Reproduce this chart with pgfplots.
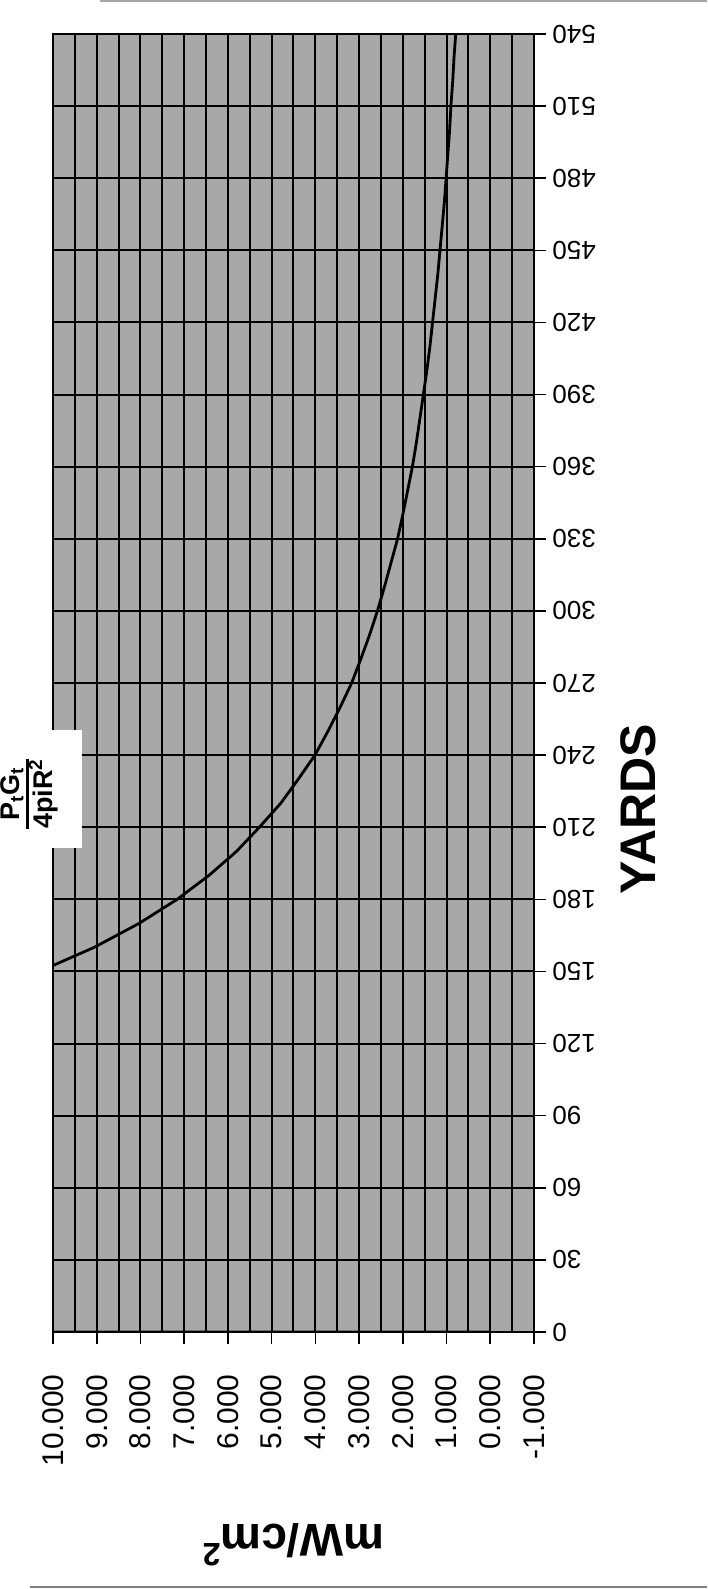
\documentclass[border=0pt]{standalone}
\usepackage{pgfplots}
\usepackage{pgfplotstable}
\pgfplotsset{compat=1.18}
\usepackage{fontspec}
\setmainfont{Liberation Sans}
\definecolor{plotbg}{gray}{0.66}
\setlength{\arrayrulewidth}{1.3pt}
\renewcommand{\arraystretch}{0.85}

% power density vs range (yards, mW/cm^2)
\pgfplotstableread{
yd mw
150 10.31
160 9.06
170 8.03
180 7.16
190 6.43
200 5.80
210 5.28
220 4.79
230 4.39
240 4.01
250 3.71
260 3.43
270 3.17
280 2.96
290 2.76
300 2.58
310 2.42
320 2.27
330 2.12
340 2.00
350 1.89
360 1.78
370 1.69
380 1.61
390 1.53
400 1.45
410 1.38
420 1.32
430 1.26
440 1.20
450 1.15
460 1.10
470 1.05
480 1.01
490 0.97
500 0.93
510 0.90
520 0.86
530 0.83
540 0.79
}\curve

\begin{document}
\begin{tikzpicture}
\path[use as bounding box] (0,0) rectangle (353.5pt,794.5pt);
\begin{axis}[
    at={(26.5pt,128.5pt)}, anchor=south west,
    scale only axis, width=240.5pt, height=649pt,
    x dir=reverse,
    xmin=-1, xmax=10, ymin=0, ymax=540,
    xtick={-1,0,...,10}, minor x tick num=1,
    ytick={0,30,...,540},
    axis background/.style={fill=plotbg},
    grid=both,
    major grid style={black, line width=1pt},
    minor grid style={black, line width=1pt},
    axis line style={black, line width=1pt},
    xtick pos=left, ytick pos=right, yticklabel pos=right,
    tick align=outside, major tick length=6pt, minor tick length=0pt,
    tick style={black, line width=0.8pt},
    /pgf/number format/assume math mode=true,
    xticklabel style={rotate=90, anchor=east, inner sep=0pt,
        font=\fontsize{15}{15}\selectfont,
        /pgf/number format/fixed, /pgf/number format/fixed zerofill,
        /pgf/number format/precision=3},
    yticklabel style={rotate=180, anchor=east, inner sep=0pt,
        font=\fontsize{13}{13}\selectfont},
    xticklabel shift=15pt, yticklabel shift=3pt,
]
\addplot[black, line width=1.4pt] coordinates {(0,0) (10,0.04)};
\addplot[black, line width=1.4pt] table[x=mw, y=yd] {\curve};
\end{axis}
\node[rotate=90, font=\bfseries\fontsize{25}{25}\selectfont] at (319pt,390pt) {YARDS};
\node[rotate=180, anchor=base, font=\bfseries\fontsize{23}{23}\selectfont] at (146.5pt,32pt) {mW/cm\textsuperscript{2}};
\fill[white] (2.5pt,370.5pt) rectangle (41pt,429.5pt);
\node[rotate=90, inner sep=0pt, font=\bfseries\fontsize{13.5}{14}\selectfont] at (15pt,397.5pt)
    {\begin{tabular}{@{}c@{}}P\textsubscript{t}G\textsubscript{t}\\\hline 4piR\textsuperscript{2}\end{tabular}};
\draw[gray, line width=1pt] (15pt,1pt) -- (353.5pt,1pt);
\draw[gray!70, line width=0.8pt] (50pt,794pt) -- (353.5pt,794pt);
\end{tikzpicture}
\end{document}
